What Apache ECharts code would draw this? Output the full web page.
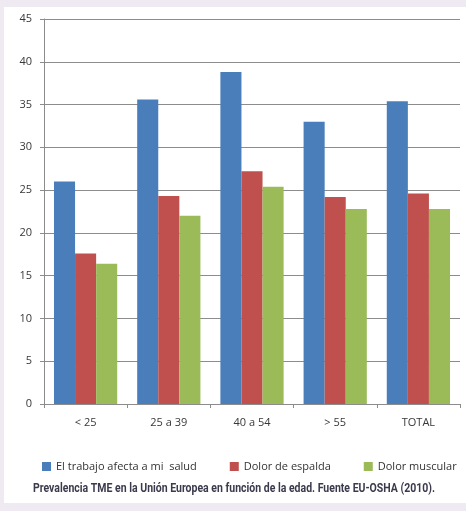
<!DOCTYPE html>
<html>
<head>
<meta charset="utf-8">
<script src="https://cdn.jsdelivr.net/npm/echarts@6/dist/echarts.min.js"></script>
<style>
  html, body { margin: 0; padding: 0; background: #efe9f2; }
  .paper { position: absolute; left: 4px; top: 7px; width: 462px; height: 496px; background: #fff; }
  #chart { position: absolute; left: 0; top: 0; width: 466px; height: 511px; }
</style>
</head>
<body>
<div class="paper"></div>
<div id="chart"></div>
<script>
const categories = ['< 25', '25 a 39', '40 a 54', '> 55', 'TOTAL']
const seriesNames = ['El trabajo afecta a mi  salud', 'Dolor de espalda', 'Dolor muscular']
const salud = [26.0, 35.6, 38.8, 33.0, 35.4]
const espalda = [17.6, 24.3, 27.2, 24.2, 24.6]
const muscular = [16.4, 22.0, 25.4, 22.8, 22.8]
const colors = ['#4a7ebb', '#c0504d', '#9bbb59']
const caption = 'Prevalencia TME en la Unión Europea en función de la edad. Fuente EU-OSHA (2010).'

const myChart = echarts.init(document.getElementById('chart'))

const labelFont = { color: '#383838', fontSize: 11, fontFamily: 'Open Sans' }

// el pie va en letra estrecha: se mide y se comprime en horizontal
const captionFont = 'bold 13px Roboto'
const ctx = document.createElement('canvas').getContext('2d')
ctx.font = captionFont
const captionScale = 402 / ctx.measureText(caption).width

myChart.setOption({
  animation: false,
  color: colors,
  graphic: [
    {
      type: 'text',
      x: 234,
      y: 489,
      scaleX: captionScale,
      style: {
        text: caption,
        font: captionFont,
        fill: '#3a3a4c',
        textAlign: 'center',
        textVerticalAlign: 'middle',
      },
    },
  ],
  legend: {
    top: 456,
    left: 37,
    itemWidth: 9,
    itemHeight: 9,
    itemGap: 33,
    icon: 'rect',
    textStyle: { color: '#333', fontSize: 11, fontFamily: 'Open Sans' },
    data: seriesNames,
  },
  grid: { left: 44, right: 6, top: 19, bottom: 107 },
  xAxis: {
    type: 'category',
    data: categories,
    axisLine: { lineStyle: { color: '#8c8c8c' } },
    axisTick: { show: true, length: 4, lineStyle: { color: '#8c8c8c' } },
    axisLabel: { ...labelFont, margin: 13 },
  },
  yAxis: {
    type: 'value',
    min: 0,
    max: 45,
    interval: 5,
    axisLine: { show: true, lineStyle: { color: '#8c8c8c' } },
    axisTick: { show: true, length: 4, lineStyle: { color: '#8c8c8c' } },
    axisLabel: { ...labelFont, margin: 12 },
    splitLine: { lineStyle: { color: '#8c8c8c' } },
  },
  series: [
    { name: seriesNames[0], type: 'bar', data: salud, barGap: '0%', barCategoryGap: '24%' },
    { name: seriesNames[1], type: 'bar', data: espalda, barGap: '0%', barCategoryGap: '24%' },
    { name: seriesNames[2], type: 'bar', data: muscular, barGap: '0%', barCategoryGap: '24%' },
  ],
})
</script>
</body>
</html>
